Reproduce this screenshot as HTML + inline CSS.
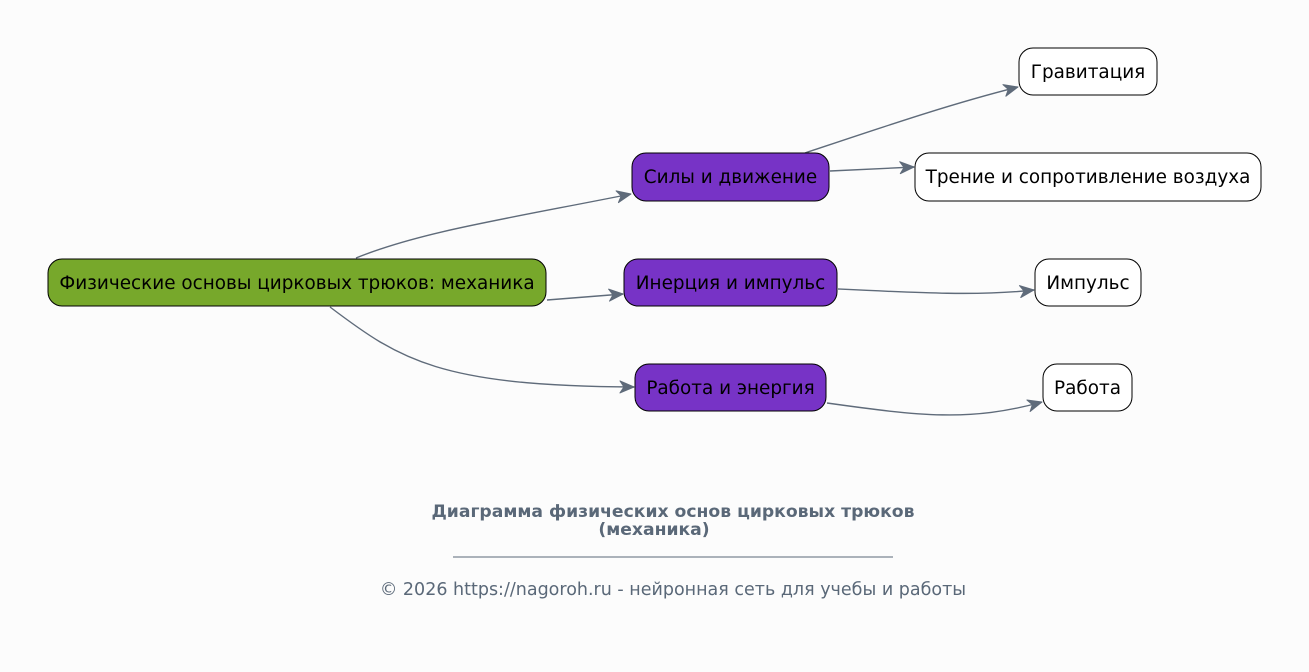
<!DOCTYPE html>
<html><head><meta charset="utf-8"><style>
html,body{margin:0;padding:0;background:#fcfcfc;overflow:hidden;width:1309px;height:672px;}
svg{display:block;}
svg text{font-family:"DejaVu Sans","Liberation Sans",sans-serif;}
</style></head><body>
<svg width="1309" height="672" viewBox="0 0 1309 672" xmlns="http://www.w3.org/2000/svg">
<defs>
<marker id="a" markerUnits="userSpaceOnUse" markerWidth="18" markerHeight="16" refX="15" refY="7" orient="auto">
<path d="M1,1 L15,7 L1,13 L5,7 Z" fill="#5f6b7a" stroke="#5f6b7a" stroke-width="1" stroke-linejoin="round"/>
</marker>
</defs>
<rect width="1309" height="672" fill="#fcfcfc"/>
<g fill="none" stroke="#5f6b7a" stroke-width="1.4" marker-end="url(#a)">
<path d="M356,258 C420,232 500,220 631,194"/>
<path d="M547,300 L623,294"/>
<path d="M330,307 C400,360 440,386 634,387"/>
<path d="M805,153 C880,128 950,104 1018,87"/>
<path d="M830,171 L914,167"/>
<path d="M838,289 C920,293 980,296 1034,290"/>
<path d="M827,403 C920,416 970,422 1042,402"/>
</g>
<g stroke="#000" stroke-width="1">
<rect x="48" y="259" width="498" height="47" rx="14" fill="#77a82b"/>
<rect x="632" y="153" width="197" height="48" rx="14" fill="#7733c6"/>
<rect x="624" y="259" width="213" height="47" rx="14" fill="#7733c6"/>
<rect x="635" y="364" width="191" height="47" rx="14" fill="#7733c6"/>
<rect x="1019" y="48" width="138" height="47" rx="14" fill="#fff"/>
<rect x="915" y="153" width="346" height="48" rx="14" fill="#fff"/>
<rect x="1035" y="259" width="106" height="47" rx="14" fill="#fff"/>
<rect x="1043" y="364" width="89" height="47" rx="14" fill="#fff"/>
</g>
<g font-size="18.4" fill="#000" text-anchor="middle">
<text x="297" y="289">Физические основы цирковых трюков: механика</text>
<text x="730.5" y="183">Силы и движение</text>
<text x="730.5" y="289">Инерция и импульс</text>
<text x="730.5" y="394">Работа и энергия</text>
<text x="1088" y="78">Гравитация</text>
<text x="1088" y="183">Трение и сопротивление воздуха</text>
<text x="1088" y="289">Импульс</text>
<text x="1087.5" y="394">Работа</text>
</g>
<g fill="#5a6878" text-anchor="middle">
<text x="673" y="517" font-size="17.2" font-weight="bold">Диаграмма физических основ цирковых трюков</text>
<text x="654" y="535" font-size="17.2" font-weight="bold">(механика)</text>
<text x="673" y="595" font-size="17.5">© 2026 https://nagoroh.ru - нейронная сеть для учебы и работы</text>
</g>
<line x1="453" y1="557" x2="893" y2="557" stroke="#5a6878" stroke-width="1"/>
</svg>
</body></html>
